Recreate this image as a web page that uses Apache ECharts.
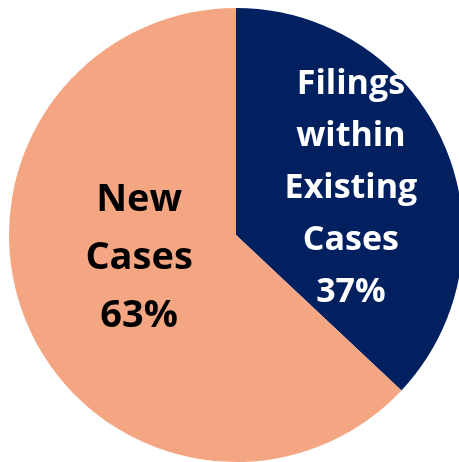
<!DOCTYPE html>
<html><head><meta charset="utf-8">
<script src="https://cdn.jsdelivr.net/npm/echarts@6/dist/echarts.min.js"></script>
<style>html,body{margin:0;padding:0;background:#fff}#c{width:459px;height:462px}</style>
</head><body><div id="c"></div>
<script>
const categories = ['Filings\nwithin\nExisting\nCases', 'New\nCases'];
const values = [37, 63];
const colors = ['#002060', '#F4A683'];

const chart = echarts.init(document.getElementById('c'), null, {renderer: 'canvas'});
chart.setOption({
  animation: false,
  series: [{
    type: 'pie',
    center: [236, 235],
    radius: [0, 227],
    startAngle: 90,
    clockwise: true,
    itemStyle: {borderWidth: 0},
    emphasis: {disabled: true},
    label: {
      position: 'inside',
      formatter: '{b}\n{c}%',
      fontFamily: 'Open Sans',
      fontWeight: 'bold'
    },
    labelLine: {show: false},
    data: [
      {name: categories[0], value: values[0], itemStyle: {color: colors[0]},
       label: {color: '#ffffff', fontSize: 34, lineHeight: 52, offset: [8, 0]}},
      {name: categories[1], value: values[1], itemStyle: {color: colors[1]},
       label: {color: '#000000', fontSize: 38, lineHeight: 58, offset: [10, -23]}}
    ]
  }]
});
</script></body></html>
